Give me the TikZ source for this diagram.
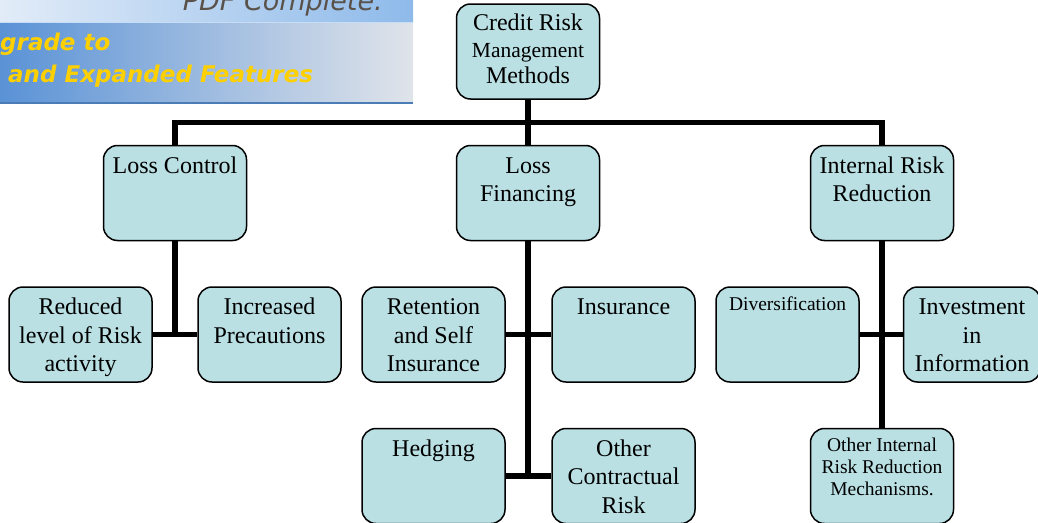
\documentclass[tikz,border=0pt]{standalone}
\usepackage{fontspec}
\setmainfont{Liberation Serif}
\newfontfamily\wmfont{DejaVu Sans}
\usepackage{xcolor}
\usetikzlibrary{positioning,calc}
\definecolor{boxfill}{RGB}{186,224,228}
\definecolor{wmgold}{RGB}{255,208,0}
\definecolor{wmgray}{RGB}{90,82,74}
\definecolor{wmblue}{RGB}{90,146,214}
\definecolor{wmpale}{RGB}{224,228,234}
\definecolor{wmsky}{RGB}{142,186,234}
\definecolor{wmwhite}{RGB}{226,236,248}
\newcommand{\boxtxt}[2][\fontsize{24}{28.5}]{\parbox[c][79pt][t]{137pt}{\centering#1\selectfont\strut#2}}

\begin{document}
\begin{tikzpicture}[x=1pt,y=-1pt,node distance=141.5pt,on grid,
  blk/.style={draw,line width=1.5pt,rounded corners=14pt,fill=boxfill,inner sep=0pt,minimum width=143pt,minimum height=95pt},
  link/.style={line width=5.5pt},
  wmtxt/.style={inner sep=0pt,text=wmgold,font=\wmfont\bfseries\itshape\fontsize{23}{27}\selectfont}]
\useasboundingbox (0,0) rectangle (1038,522);
\clip (0,0) rectangle (1038,522);
\shade[left color=wmwhite,right color=wmsky] (0,0) rectangle (413,22);
\shade[left color=wmblue,right color=wmpale] (0,22) rectangle (413,102);
\fill[wmblue!85!black] (0,102) rectangle (413,104);
\draw[wmsky!50!white,line width=1pt] (0,22.5) -- (413,22.5);
\node[anchor=base east,inner sep=0pt,text=wmgray,font=\wmfont\itshape\fontsize{27}{32}\selectfont] (wmtop) at (383,10) {PDF Complete.};
\node[wmtxt,anchor=base west] (wmup) at (0,50) {grade to};
\node[wmtxt,anchor=base west] (wmfeat) at (8,82) {and Expanded Features};

  \node[blk] (root) at (528,51.5) {\boxtxt[\fontsize{24}{26.5}]{Credit Risk\\{\fontsize{21.5}{26.5}\selectfont Management}\\Methods}};
  \node[blk] (lf) [below=of root] {\boxtxt{Loss\\Financing}};
  \node[blk] (lc) [left=353pt of lf] {\boxtxt{Loss Control}};
  \node[blk] (irr) [right=354pt of lf] {\boxtxt{Internal Risk\\Reduction}};
  \node[blk] (red) [below left=141.5pt and 94.5pt of lc] {\boxtxt{Reduced\\level of Risk\\activity}};
  \node[blk] (inc) [below right=141.5pt and 94.5pt of lc] {\boxtxt{Increased\\Precautions}};
  \node[blk] (ret) [below left=141.5pt and 94.5pt of lf] {\boxtxt{Retention\\and Self\\Insurance}};
  \node[blk] (ins) [below right=141.5pt and 95.5pt of lf] {\boxtxt{Insurance}};
  \node[blk] (hed) [below=of ret] {\boxtxt{Hedging}};
  \node[blk] (ocr) [below=of ins] {\boxtxt{Other\\Contractual\\Risk}};
  \node[blk] (div) [below left=141.5pt and 94.5pt of irr] {\boxtxt[\fontsize{19.5}{22}]{Diversification}};
  \node[blk,minimum width=132pt] (inv) [below right=141.5pt and 90pt of irr] {\boxtxt{Investment\\in\\Information}};
  \node[blk] (oir) [below=283pt of irr] {\boxtxt[\fontsize{19.5}{22}]{Other Internal\\Risk Reduction\\Mechanisms.}};

  \coordinate (bus) at ($(root.south)!.5!(lf.north)$);
  \draw[link] (root) -- (lf);
  \draw[link] (lc.north) |- (bus) -| (irr.north);
  \draw[link] (lc) -- (lc |- red);
  \draw[link] (red) -- (inc);
  \draw[link] (lf) -- (lf |- hed);
  \draw[link] (ret) -- (ins);
  \draw[link] (hed) -- (ocr);
  \draw[link] (irr) -- (oir);
  \draw[link] (div) -- (inv);
\end{tikzpicture}
\end{document}
